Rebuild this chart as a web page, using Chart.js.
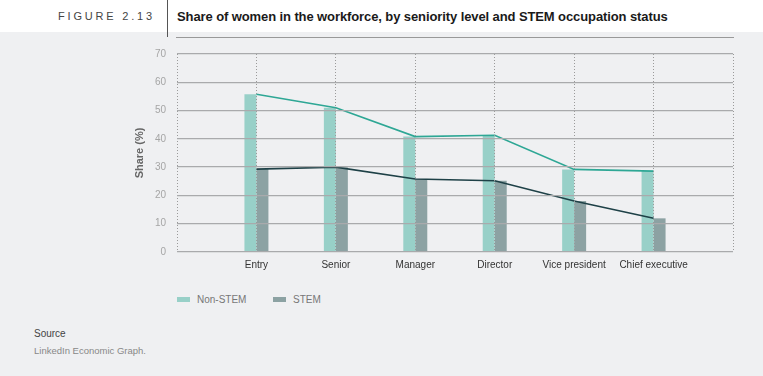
<!DOCTYPE html>
<html>
<head>
<meta charset="utf-8">
<script src="https://cdn.jsdelivr.net/npm/chart.js@4/dist/chart.umd.min.js"></script>
<style>
  html, body { margin: 0; padding: 0; }
  body { width: 763px; height: 376px; background: #eff0f2; position: relative; overflow: hidden; font-family: "Liberation Sans", Arial, sans-serif; }
  #header { position: absolute; left: 0; top: 0; width: 763px; height: 32px; background: #fff; }
  #figno { position: absolute; left: 58px; top: 10px; font-size: 11px; letter-spacing: 2.8px; color: #444; }
  #divider { position: absolute; left: 167px; top: 0; width: 1px; height: 37px; background: #555; }
  #title { position: absolute; left: 177px; top: 9px; font-size: 13px; font-weight: bold; color: #1a1a1a; white-space: nowrap; letter-spacing: -0.1px; }
  #chartBox { position: absolute; left: 0; top: 37px; width: 763px; height: 240px; }
  #legend { position: absolute; left: 177px; top: 293px; font-size: 10px; color: #777; }
  .item { position: absolute; top: 0; white-space: nowrap; line-height: 13px; }
  .swatch { display: inline-block; width: 13px; height: 5px; vertical-align: middle; margin-right: 7px; position: relative; top: -1px; }
  #source { position: absolute; left: 34px; top: 328px; font-size: 10px; color: #444; }
  #sourceText { position: absolute; left: 34px; top: 345px; font-size: 9.5px; color: #888; }
</style>
</head>
<body>
<div id="header"></div>
<div id="figno">FIGURE 2.13</div>
<div id="divider"></div>
<div id="title">Share of women in the workforce, by seniority level and STEM occupation status</div>
<div id="chartBox"><canvas id="chart"></canvas></div>
<div id="legend">
  <div class="item" style="left:0"><span class="swatch" style="background:#98d0c8"></span>Non-STEM</div>
  <div class="item" style="left:96px"><span class="swatch" style="background:#8ca2a3"></span>STEM</div>
</div>
<div id="source">Source</div>
<div id="sourceText">LinkedIn Economic Graph.</div>

<script>
const categories = ['Entry', 'Senior', 'Manager', 'Director', 'Vice president', 'Chief executive'];
const nonStem = [55.8, 51.0, 40.8, 41.3, 29.2, 28.6];
const stem = [29.3, 30.0, 25.8, 25.2, 18.0, 11.9];
const yTicks = [0, 10, 20, 30, 40, 50, 60, 70];

// empty slot on each side so the category lines fall where the reference has them
const labels = ['', ...categories, ''];
const pad = arr => [null, ...arr, null];

const ctx = document.getElementById('chart').getContext('2d');
new Chart(ctx, {
    type: 'bar',
    data: {
        labels: labels,
        datasets: [{
            type: 'line',
            label: 'Non-STEM line',
            data: pad(nonStem),
            borderColor: '#2ea795',
            borderWidth: 1.6,
            pointRadius: 0,
            tension: 0,
            fill: false,
            order: 0
        }, {
            type: 'line',
            label: 'STEM line',
            data: pad(stem),
            borderColor: '#1e4147',
            borderWidth: 1.6,
            pointRadius: 0,
            tension: 0,
            fill: false,
            order: 0
        }, {
            label: 'Non-STEM',
            data: pad(nonStem),
            backgroundColor: '#98d0c8',
            categoryPercentage: 0.302,
            barPercentage: 1,
            order: 1
        }, {
            label: 'STEM',
            data: pad(stem),
            backgroundColor: '#8ca2a3',
            categoryPercentage: 0.302,
            barPercentage: 1,
            order: 1
        }]
    },
    options: {
        responsive: true,
        maintainAspectRatio: false,
        animation: false,
        layout: { padding: { top: 16, right: 30, left: 0, bottom: 0 } },
        plugins: {
            legend: { display: false },
            tooltip: { enabled: false }
        },
        scales: {
            x: {
                offset: false,
                grid: { offset: false, color: '#9a9a9a', lineWidth: 1, drawTicks: false, z: 1 },
                border: { display: true, color: '#999', width: 2, dash: [1, 2] },
                ticks: {
                    color: '#333',
                    font: { family: 'Liberation Sans', size: 10 },
                    padding: 7,
                    maxRotation: 0,
                    autoSkip: false
                },
                afterFit: scale => { scale.height = 25; }
            },
            y: {
                min: 0,
                max: 70,
                afterBuildTicks: scale => { scale.ticks = yTicks.map(v => ({ value: v })); },
                grid: {
                    color: '#a9aaac',
                    lineWidth: 1.3,
                    drawTicks: false,
                    z: 1
                },
                border: { display: false },
                ticks: {
                    color: '#a5a5a5',
                    font: { family: 'Liberation Sans', size: 10 },
                    padding: 11
                },
                title: {
                    display: true,
                    text: 'Share (%)',
                    color: '#666',
                    font: { family: 'Liberation Sans', size: 11, weight: 'bold' },
                    padding: { top: 133, bottom: 0 }
                },
                afterFit: scale => { scale.width = 177; }
            }
        }
    }
});
</script>
</body>
</html>
